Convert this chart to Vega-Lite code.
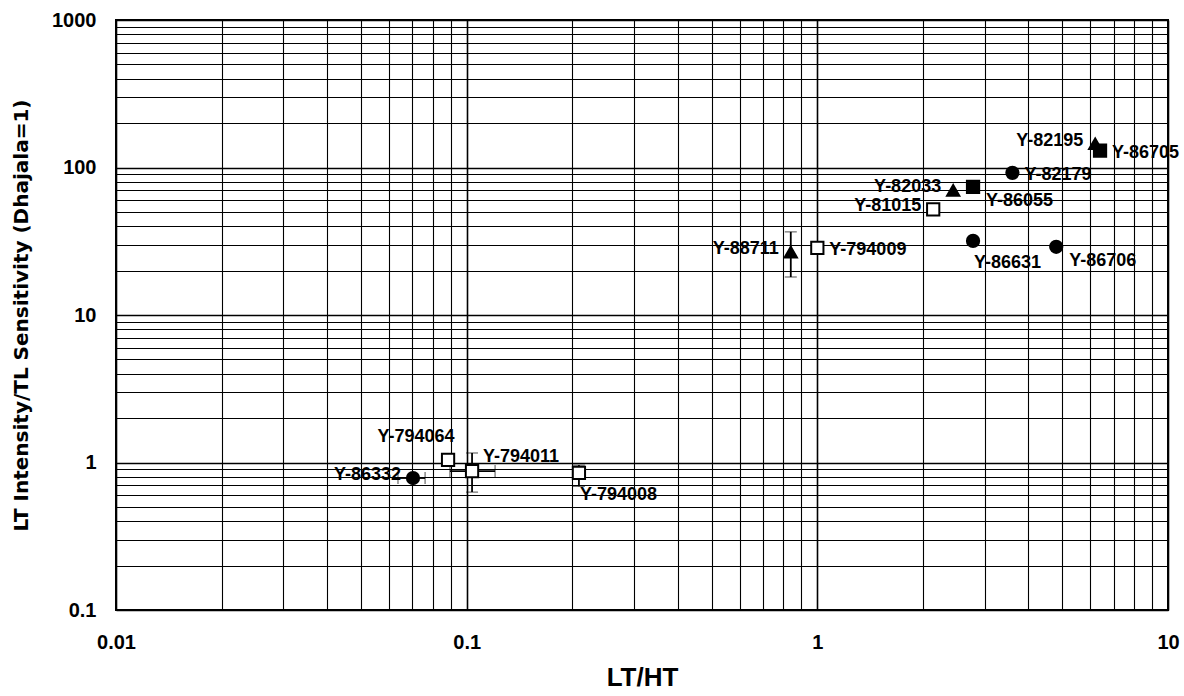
{
  "$schema": "https://vega.github.io/schema/vega-lite/v6.json",
  "width": 1052,
  "height": 590,
  "autosize": "none",
  "padding": {"left": 116, "top": 20, "right": 16, "bottom": 86},
  "background": "white",
  "config": {
    "view": {"stroke": "black", "strokeWidth": 2},
    "font": "Liberation Sans",
    "axis": {
      "labelFont": "Liberation Sans",
      "titleFont": "Liberation Sans",
      "labelFontWeight": "bold",
      "titleFontWeight": "bold",
      "labelColor": "black",
      "titleColor": "black",
      "labelFontSize": 20,
      "titleFontSize": 26,
      "ticks": false,
      "domain": false,
      "gridColor": "black",
      "gridOpacity": 1
    }
  },
  "datasets": {
    "points": [
      {"name": "Y-82195", "ltht": 6.2, "ratio": 145, "group": "T"},
      {"name": "Y-86705", "ltht": 6.4, "ratio": 130, "group": "S"},
      {"name": "Y-82179", "ltht": 3.6, "ratio": 92, "group": "C"},
      {"name": "Y-82033", "ltht": 2.44, "ratio": 70, "group": "T"},
      {"name": "Y-86055", "ltht": 2.78, "ratio": 74, "group": "S"},
      {"name": "Y-81015", "ltht": 2.14, "ratio": 52, "group": "O"},
      {"name": "Y-88711", "ltht": 0.84, "ratio": 26.7, "group": "T", "ylo": 18.1, "yhi": 36.6},
      {"name": "Y-794009", "ltht": 1.0, "ratio": 28.5, "group": "O"},
      {"name": "Y-86631", "ltht": 2.78, "ratio": 31.8, "group": "C"},
      {"name": "Y-86706", "ltht": 4.8, "ratio": 29, "group": "C"},
      {"name": "Y-86332", "ltht": 0.0703, "ratio": 0.785, "group": "C", "xlo": 0.0637, "xhi": 0.0761},
      {"name": "Y-794064", "ltht": 0.0885, "ratio": 1.04, "group": "O"},
      {"name": "Y-794011", "ltht": 0.1036, "ratio": 0.875, "group": "O", "xlo": 0.0896, "xhi": 0.1205, "ylo": 0.63, "yhi": 1.16},
      {"name": "Y-794008", "ltht": 0.209, "ratio": 0.85, "group": "O", "ylo": 0.69, "yhi": 0.96}
    ]
  },
  "data": {"name": "points"},
  "encoding": {
    "x": {
      "field": "ltht", "type": "quantitative",
      "scale": {"type": "log", "domain": [0.01, 10], "nice": false},
      "axis": {
        "title": "LT/HT",
        "values": [0.01,0.02,0.03,0.04,0.05,0.06,0.07,0.08,0.09,0.1,0.2,0.3,0.4,0.5,0.6,0.7,0.8,0.9,1,2,3,4,5,6,7,8,9,10],
        "labelExpr": "abs(log(datum.value)/LN10 - round(log(datum.value)/LN10)) < 0.001 ? format(datum.value, '~g') : ''",
        "labelPadding": 22,
        "titlePadding": 12,
        "labelFlush": false,
        "grid": true,
        "gridWidth": {"condition": {"test": "abs(log(datum.value)/LN10 - round(log(datum.value)/LN10)) < 0.001", "value": 1.6}, "value": 1.1}
      }
    },
    "y": {
      "field": "ratio", "type": "quantitative",
      "scale": {"type": "log", "domain": [0.1, 1000], "nice": false},
      "axis": {
        "title": "LT Intensity/TL Sensitivity (Dhajala=1)",
        "titleFont": "DejaVu Sans",
        "titleFontSize": 20,
        "values": [0.1,0.2,0.3,0.4,0.5,0.6,0.7,0.8,0.9,1,2,3,4,5,6,7,8,9,10,20,30,40,50,60,70,80,90,100,200,300,400,500,600,700,800,900,1000],
        "labelExpr": "abs(log(datum.value)/LN10 - round(log(datum.value)/LN10)) < 0.001 ? format(datum.value, '~g') : ''",
        "labelPadding": 20,
        "titlePadding": 20,
        "labelFlush": false,
        "grid": true,
        "gridWidth": {"condition": {"test": "abs(log(datum.value)/LN10 - round(log(datum.value)/LN10)) < 0.001", "value": 1.6}, "value": 1.1}
      }
    }
  },
  "layer": [
    {
      "transform": [{"filter": "isValid(datum.ylo)"}],
      "mark": {"type": "errorbar", "color": "black", "ticks": {"size": 12, "color": "black", "strokeWidth": 2}, "rule": {"color": "black", "strokeWidth": 1.8}},
      "encoding": {
        "y": {"field": "ylo", "type": "quantitative"},
        "y2": {"field": "yhi"}
      }
    },
    {
      "transform": [{"filter": "isValid(datum.xlo)"}],
      "mark": {"type": "errorbar", "color": "black", "ticks": {"size": 12, "color": "black", "strokeWidth": 2}, "rule": {"color": "black", "strokeWidth": 1.8}},
      "encoding": {
        "x": {"field": "xlo", "type": "quantitative"},
        "x2": {"field": "xhi"}
      }
    },
    {
      "mark": {"type": "point", "filled": false, "size": 150, "strokeWidth": 2, "opacity": 1},
      "encoding": {
        "shape": {"field": "group", "type": "nominal", "scale": {"domain": ["O", "S", "C", "T"], "range": ["square", "square", "circle", "triangle-up"]}, "legend": null},
        "fill": {"field": "group", "type": "nominal", "scale": {"domain": ["O", "S", "C", "T"], "range": ["white", "black", "black", "black"]}, "legend": null},
        "stroke": {"value": "black"}
      }
    },
    {
      "transform": [{"filter": {"field": "name", "oneOf": ["Y-82195", "Y-82033", "Y-81015", "Y-88711", "Y-86332"]}}],
      "mark": {"type": "text", "align": "right", "baseline": "middle", "dx": -12, "dy": -3, "fontSize": 18, "fontWeight": "bold", "font": "Liberation Sans", "color": "black"},
      "encoding": {"text": {"field": "name"}}
    },
    {
      "transform": [{"filter": {"field": "name", "oneOf": ["Y-86705", "Y-82179", "Y-794009"]}}],
      "mark": {"type": "text", "align": "left", "baseline": "middle", "dx": 12, "dy": 2, "fontSize": 18, "fontWeight": "bold", "font": "Liberation Sans", "color": "black"},
      "encoding": {"text": {"field": "name"}}
    },
    {
      "transform": [{"filter": {"field": "name", "oneOf": ["Y-86055", "Y-86706"]}}],
      "mark": {"type": "text", "align": "left", "baseline": "middle", "dx": 13, "dy": 14, "fontSize": 18, "fontWeight": "bold", "font": "Liberation Sans", "color": "black"},
      "encoding": {"text": {"field": "name"}}
    },
    {
      "transform": [{"filter": {"field": "name", "oneOf": ["Y-86631", "Y-794008"]}}],
      "mark": {"type": "text", "align": "left", "baseline": "middle", "dx": 1, "dy": 22, "fontSize": 18, "fontWeight": "bold", "font": "Liberation Sans", "color": "black"},
      "encoding": {"text": {"field": "name"}}
    },
    {
      "transform": [{"filter": {"field": "name", "oneOf": ["Y-794011"]}}],
      "mark": {"type": "text", "align": "left", "baseline": "middle", "dx": 11, "dy": -14, "fontSize": 18, "fontWeight": "bold", "font": "Liberation Sans", "color": "black"},
      "encoding": {"text": {"field": "name"}}
    },
    {
      "transform": [{"filter": {"field": "name", "oneOf": ["Y-794064"]}}],
      "mark": {"type": "text", "align": "center", "baseline": "middle", "dx": -32, "dy": -23, "fontSize": 18, "fontWeight": "bold", "font": "Liberation Sans", "color": "black"},
      "encoding": {"text": {"field": "name"}}
    }
  ]
}
